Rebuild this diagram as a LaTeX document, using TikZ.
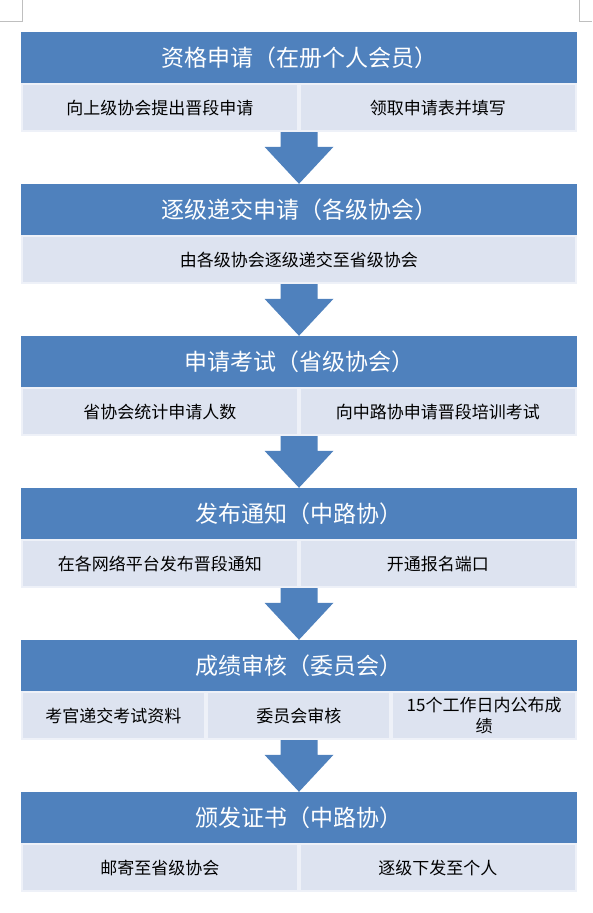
\documentclass[tikz,border=0pt]{standalone}
\usepackage{fontspec}
\setmainfont{Noto Sans CJK SC}
\usepackage{tikz}
\usetikzlibrary{positioning, calc}
\definecolor{hdrblue}{RGB}{79,129,189}
\definecolor{cellfill}{RGB}{221,227,240}
\definecolor{cellline}{RGB}{238,241,248}
\definecolor{markgray}{RGB}{191,191,191}
% block arrow from the bottom of a cell row (#1) to the next header (#2)
\newcommand{\stagearrow}[2]{%
  \fill[hdrblue] ($(#1)+(-18.5,0)$) -- ($(#1)+(18.5,0)$) -- ($(#2)+(18.5,-37)$) -- ($(#2)+(34.5,-37)$)
    -- (#2) -- ($(#2)+(-34.5,-37)$) -- ($(#2)+(-18.5,-37)$) -- cycle;}

\begin{document}
\begin{tikzpicture}[x=1pt, y=-1pt,
  hdr/.style={rectangle, fill=hdrblue, text=white, minimum width=556pt, minimum height=51pt, inner sep=0pt, font=\fontsize{23}{27}\selectfont},
  cell/.style={rectangle, fill=cellfill, draw=cellline, line width=2pt, minimum height=47pt, inner sep=0pt, align=center, font=\fontsize{17}{21}\selectfont},
  half/.style={cell, minimum width=276pt},
  third/.style={cell, minimum width=183.33pt},
  full/.style={cell, minimum width=554pt}
]
\useasboundingbox (0,0) rectangle (592,913);
% page corner marks
\draw[markgray, line width=1pt] (22,0) -- (22,21) -- (0,21);
\draw[markgray, line width=1pt] (579,0) -- (579,21) -- (592,21);
% stage 1
\node[hdr] (h1) at (299,57.5) {资格申请（在册个人会员）};
\node[half, below right=0pt and 0pt of h1.south west] (c1a) {向上级协会提出晋段申请};
\node[half, right=0pt of c1a] (c1b) {领取申请表并填写};
% stage 2
\node[hdr, below=100.6pt of h1] (h2) {逐级递交申请（各级协会）};
\node[full, below right=0pt and 0pt of h2.south west] (c2) {由各级协会逐级递交至省级协会};
% stage 3
\node[hdr, below=100.6pt of h2] (h3) {申请考试（省级协会）};
\node[half, below right=0pt and 0pt of h3.south west] (c3a) {省协会统计申请人数};
\node[half, right=0pt of c3a] (c3b) {向中路协申请晋段培训考试};
% stage 4
\node[hdr, below=100.6pt of h3] (h4) {发布通知（中路协）};
\node[half, below right=0pt and 0pt of h4.south west] (c4a) {在各网络平台发布晋段通知};
\node[half, right=0pt of c4a] (c4b) {开通报名端口};
% stage 5
\node[hdr, below=100.6pt of h4] (h5) {成绩审核（委员会）};
\node[third, below right=0pt and 0pt of h5.south west] (c5a) {考官递交考试资料};
\node[third, right=0pt of c5a] (c5b) {委员会审核};
\node[third, right=0pt of c5b] (c5c) {15个工作日内公布成\\绩};
% stage 6
\node[hdr, below=100.6pt of h5] (h6) {颁发证书（中路协）};
\node[half, below right=0pt and 0pt of h6.south west] (c6a) {邮寄至省级协会};
\node[half, right=0pt of c6a] (c6b) {逐级下发至个人};
% arrows between stages
\stagearrow{h1.south |- c1a.south}{h2.north}
\stagearrow{h2.south |- c2.south}{h3.north}
\stagearrow{h3.south |- c3a.south}{h4.north}
\stagearrow{h4.south |- c4a.south}{h5.north}
\stagearrow{h5.south |- c5a.south}{h6.north}
\end{tikzpicture}
\end{document}
